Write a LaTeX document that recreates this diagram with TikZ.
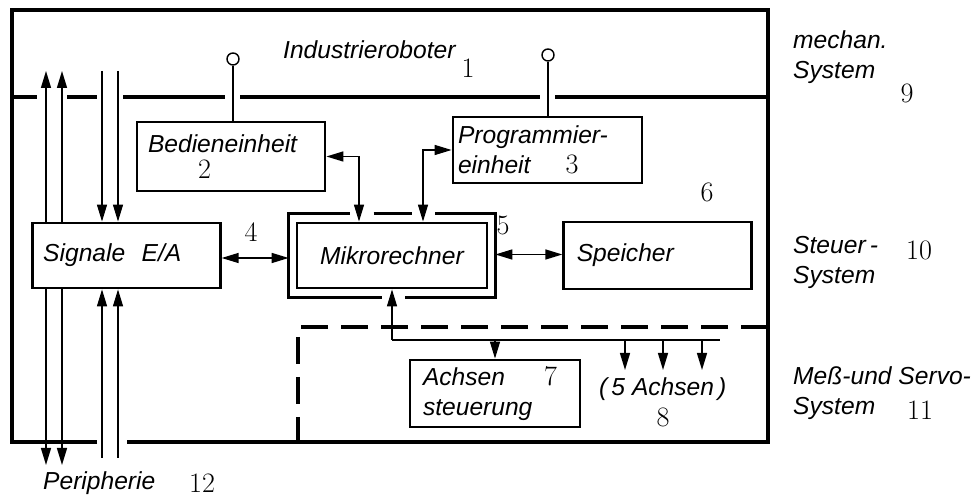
\documentclass[tikz,border=0pt]{standalone}
\usepackage{fontspec}
\setsansfont{Liberation Sans}
\usetikzlibrary{arrows.meta, positioning, calc}

\begin{document}
\begin{tikzpicture}[
    every node/.style={font=\sffamily\itshape\fontsize{14}{17}\selectfont},
    box/.style={rectangle, draw, line width=1.6pt, inner xsep=2.2mm, align=left},
    num/.style={font=\rmfamily\upshape\fontsize{16}{17}\selectfont},
    frame/.style={line width=2pt},
    dashline/.style={line width=2pt, dash pattern=on 5.5mm off 2.5mm},
    pin/.style={circle, draw, line width=0.8pt, minimum size=2.4mm, inner sep=0pt},
    wire/.style={line width=0.8pt},
    arr/.style={-{Triangle[length=3.4mm, width=2mm]}, line width=0.8pt},
    dbl/.style={{Triangle[length=3.4mm, width=2mm]}-{Triangle[length=3.4mm, width=2mm]}, line width=0.8pt}
]
    \useasboundingbox (0,0) rectangle (19.58,9.94);

    % outer frame and system borders
    \draw[frame] (1.94,1.1) -- (0.24,1.1) -- (0.24,9.74) -- (15.36,9.74) -- (15.36,1.1) -- (2.54,1.1);
    \foreach \a/\b in {0.24/0.74, 1.34/1.94, 2.46/4.5, 4.8/10.8, 11.1/15.36}
        \draw[frame] (\a,8) -- (\b,8);
    \draw[dashline] (15.36,3.4) -- (5.96,3.4) -- (5.96,1.1);

    % blocks
    \node[box, text width=3.32cm, minimum height=1.38cm] (bed) at (4.62,6.81)
        {Bedieneinheit\\[-2pt]\hspace*{1.0cm}{\rmfamily\upshape\fontsize{16}{17}\selectfont 2}};
    \node[box, inner xsep=1mm, text width=3.58cm, minimum height=1.32cm] (prog) at (10.95,6.94)
        {Programmier-\\einheit\hspace{0.7cm}{\rmfamily\upshape\fontsize{16}{17}\selectfont 3}};
    \node[box, align=center, text width=3.36cm, minimum height=1.3cm] (mrin) at (7.84,4.83) {Mikrorechner};
    \node[minimum width=4.12cm, minimum height=1.66cm, inner sep=0pt] (mr) at (mrin) {};
    \node[box, text width=3.32cm, minimum height=1.3cm, left=1.34cm of mr] (sig) {Signale\ \ E/A};
    \node[box, inner xsep=2.6mm, text width=3.24cm, minimum height=1.34cm, right=1.34cm of mr] (spei) {Speicher};
    \node[box, inner xsep=2.6mm, text width=2.88cm, minimum height=1.34cm] (achs) at (9.9,2.07)
        {Achsen\hspace{0.78cm}{\rmfamily\upshape\fontsize{16}{17}\selectfont 7}\\steuerung};

    % outer border of the microcomputer
    \draw[line width=1.6pt] ($(mr.north west)+(1.22,0)$) -- (mr.north west) -- (mr.south west) -- ++(1.86,0);
    \draw[line width=1.6pt] ($(mr.south east)+(-1.8,0)$) -- (mr.south east) -- (mr.north east) -- ++(-1.2,0);
    \draw[line width=1.6pt] ($(mr.north west)+(1.7,0)$) -- ++(0.76,0);

    % operator pins
    \node[pin] (p2) at (4.66,8.76) {};
    \node[pin] (p3) at (10.96,8.84) {};
    \draw[wire] (p2) -- (p2 |- bed.north);
    \draw[wire] (p3) -- (p3 |- prog.north);

    % connections
    \draw[dbl] (sig.east |- 0,4.78) -- (mr.west |- 0,4.78);
    \draw[dbl] (mr.east |- 0,4.85) -- (spei.west |- 0,4.85);
    \draw[dbl] (bed.east) -| ([xshift=-6.6mm]mrin.north);
    \draw[dbl] (prog.west) -| ([xshift=6.2mm]mrin.north);

    % axis bus
    \coordinate (busl) at (7.84,3.14);
    \coordinate (busr) at (14.4,3.14);
    \draw[arr] (busl) -- (mrin.south);
    \draw[wire] (busl) -- (busr);
    \draw[arr] (busl -| achs.north) -- (achs.north);
    \foreach \x [count=\i] in {12.5,13.26,14.04} {
        \coordinate (ax\i) at (\x,2.54);
        \draw[arr] (busl -| ax\i) -- (ax\i);
    }

    % periphery lines
    \coordinate (ua) at (0.92,8.52);
    \coordinate (ub) at (1.24,8.52);
    \coordinate (uc) at (2.04,8.52);
    \coordinate (ud) at (2.36,8.52);
    \coordinate (la) at (0.92,0.64);
    \coordinate (lb) at (1.24,0.64);
    \coordinate (lc) at (2.04,0.78);
    \coordinate (ld) at (2.36,0.78);
    \draw[arr] (sig.north -| ua) -- (ua);
    \draw[arr] (sig.north -| ub) -- (ub);
    \draw[arr] (uc) -- (sig.north -| uc);
    \draw[arr] (ud) -- (sig.north -| ud);
    \draw[arr] (sig.south -| la) -- (la);
    \draw[arr] (sig.south -| lb) -- (lb);
    \draw[arr] (lc) -- (sig.south -| lc);
    \draw[arr] (ld) -- (sig.south -| ld);

    % labels
    \node[anchor=west] (robo) at (5.54,8.94) {Industrieroboter};
    \node[anchor=west] (achsen) at (11.86,2.16) {(\,5 Achsen\,)};
    \node[anchor=west] (peri) at (0.74,0.28) {Peripherie};
    \node[anchor=west, align=left] (mech) at (15.74,8.79) {mechan.\\System};
    \node[anchor=west, align=left] (steu) at (15.74,4.69) {Steuer\,-\\System};
    \node[anchor=west, align=left] (serv) at (15.74,2.08) {Meß-und Servo-\\System};

    % reference numbers
    \node[num] (n1) at (9.36,8.58) {1};
    \node[num] (n4) at (5.02,5.3) {4};
    \node[num] (n5) at (10.06,5.44) {5};
    \node[num] (n6) at (14.14,6.1) {6};
    \node[num] (n8) at (13.26,1.6) {8};
    \node[num] (n9) at (18.14,8.08) {9};
    \node[num] (n10) at (18.38,4.94) {10};
    \node[num] (n11) at (18.4,1.74) {11};
    \node[num] (n12) at (4.04,0.28) {12};
\end{tikzpicture}
\end{document}
